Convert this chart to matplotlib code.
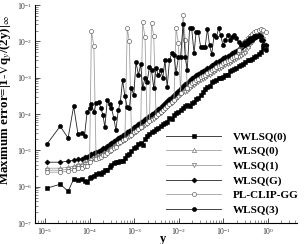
import numpy as np
import matplotlib
matplotlib.use("Agg")
import matplotlib.pyplot as plt

plt.rcParams['font.family'] = ['Liberation Serif', 'DejaVu Serif']
plt.rcParams['mathtext.fontset'] = 'stix'

# grid of y positions (shared by all schemes)
yy = [1.1e-5, 2.2e-5, 3.3e-5, 4.4e-5, 5.5e-5, 6.6e-5, 7.7e-5, 8.8e-5, 1.0e-4, 1.1e-4,
      1.25e-4, 1.4e-4, 1.6e-4, 1.8e-4, 2.0e-4, 2.2e-4, 2.5e-4, 2.8e-4, 3.1e-4, 3.5e-4,
      3.9e-4, 4.4e-4, 4.9e-4, 5.5e-4, 6.2e-4, 7.0e-4, 7.8e-4, 8.7e-4, 9.8e-4, 1.1e-3,
      1.25e-3, 1.4e-3, 1.55e-3, 1.75e-3, 1.95e-3, 2.2e-3, 2.45e-3, 2.75e-3, 3.1e-3, 3.5e-3,
      3.9e-3, 4.4e-3, 4.9e-3, 5.5e-3, 6.2e-3, 7.0e-3, 7.8e-3, 8.7e-3, 9.8e-3, 1.1e-2,
      1.25e-2, 1.4e-2, 1.55e-2, 1.75e-2, 1.95e-2, 2.2e-2, 2.45e-2, 2.75e-2, 3.1e-2, 3.5e-2,
      3.9e-2, 4.4e-2, 4.9e-2, 5.5e-2, 6.2e-2, 7.0e-2, 7.8e-2, 8.7e-2, 9.8e-2, 0.11,
      0.125, 0.14, 0.155, 0.175, 0.195, 0.22, 0.245, 0.275, 0.31, 0.35,
      0.39, 0.44, 0.49, 0.55, 0.62, 0.70, 0.78, 0.90]

vwlsq0 = [9.1e-7, 1.17e-6, 7.5e-7, 1.61e-6, 1.51e-6, 1.61e-6, 1.42e-6, 1.33e-6, 1.71e-6, 1.83e-6,
          1.95e-6, 2.21e-6, 2.36e-6, 2.21e-6, 2.51e-6, 2.85e-6, 2.85e-6, 3.45e-6, 3.91e-6, 4.44e-6,
          4.73e-6, 4.73e-6, 5.04e-6, 5.04e-6, 6.1e-6, 7.38e-6, 7.86e-6, 9.51e-6, 1.15e-5, 1.23e-5,
          1.48e-5, 1.58e-5, 1.39e-5, 2.04e-5, 2.46e-5, 2.8e-5, 3.17e-5, 3.38e-5, 3.84e-5, 4.09e-5,
          4.64e-5, 5.27e-5, 5.62e-5, 5.98e-5, 7.71e-5, 7.2e-5, 9.32e-5, 1.06e-4, 1.13e-4, 1.28e-4,
          1.45e-4, 1.65e-4, 1.76e-4, 1.65e-4, 2.0e-4, 2.13e-4, 2.57e-4, 2.74e-4, 3.32e-4, 4.01e-4,
          4.85e-4, 5.51e-4, 5.9e-4, 7.56e-4, 8.06e-4, 8.58e-4, 9.75e-4, 9.75e-4, 1.04e-3, 1.18e-3,
          1.18e-3, 1.52e-3, 1.62e-3, 1.73e-3, 1.84e-3, 2.09e-3, 2.23e-3, 2.37e-3, 2.69e-3, 3.06e-3,
          3.06e-3, 3.26e-3, 3.7e-3, 3.94e-3, 4.47e-3, 5.07e-3, 6.54e-3, 7.42e-3]

wlsq0 = [3.23e-6, 3.23e-6, 3.45e-6, 3.67e-6, 4.17e-6, 4.17e-6, 4.73e-6, 4.73e-6, 5.72e-6, 6.1e-6,
         6.5e-6, 6.92e-6, 7.38e-6, 7.86e-6, 8.93e-6, 8.93e-6, 1.01e-5, 1.15e-5, 1.23e-5, 1.39e-5,
         1.48e-5, 1.68e-5, 1.79e-5, 2.04e-5, 2.17e-5, 2.46e-5, 2.62e-5, 2.8e-5, 3.38e-5, 3.6e-5,
         4.09e-5, 4.64e-5, 4.95e-5, 5.62e-5, 5.98e-5, 6.79e-5, 7.71e-5, 8.21e-5, 9.32e-5, 1.06e-4,
         1.2e-4, 1.36e-4, 1.55e-4, 1.76e-4, 2.0e-4, 2.27e-4, 2.57e-4, 2.92e-4, 3.32e-4, 4.01e-4,
         4.55e-4, 4.55e-4, 4.85e-4, 5.87e-4, 6.66e-4, 7.1e-4, 8.06e-4, 8.58e-4, 9.75e-4, 1.04e-3,
         1.11e-3, 1.26e-3, 1.34e-3, 1.52e-3, 1.62e-3, 1.84e-3, 1.96e-3, 2.09e-3, 2.37e-3, 2.53e-3,
         2.69e-3, 2.87e-3, 3.26e-3, 3.47e-3, 3.7e-3, 4.19e-3, 4.47e-3, 5.07e-3, 5.41e-3, 7.42e-3,
         9.57e-3, 1.09e-2, 1.31e-2, 1.4e-2, 1.6e-2, 1.6e-2, 1.23e-2, 7.91e-3]

wlsq1 = [2.85e-6, 2.85e-6, 3.04e-6, 3.23e-6, 3.67e-6, 3.67e-6, 4.17e-6, 4.17e-6, 5.04e-6, 5.37e-6,
         5.72e-6, 6.1e-6, 6.5e-6, 6.92e-6, 7.86e-6, 7.86e-6, 8.93e-6, 1.01e-5, 1.08e-5, 1.23e-5,
         1.3e-5, 1.48e-5, 1.58e-5, 1.79e-5, 1.91e-5, 2.17e-5, 2.31e-5, 2.46e-5, 2.98e-5, 3.17e-5,
         3.6e-5, 4.09e-5, 4.36e-5, 4.95e-5, 5.27e-5, 5.98e-5, 6.79e-5, 7.24e-5, 8.21e-5, 9.32e-5,
         1.06e-4, 1.2e-4, 1.36e-4, 1.55e-4, 1.76e-4, 2.0e-4, 2.27e-4, 2.57e-4, 2.92e-4, 3.53e-4,
         4.01e-4, 4.01e-4, 4.27e-4, 5.17e-4, 5.87e-4, 6.25e-4, 7.1e-4, 7.56e-4, 8.58e-4, 9.15e-4,
         9.75e-4, 1.11e-3, 1.18e-3, 1.34e-3, 1.43e-3, 1.62e-3, 1.73e-3, 1.84e-3, 2.09e-3, 2.23e-3,
         2.37e-3, 2.53e-3, 2.87e-3, 3.06e-3, 3.26e-3, 3.7e-3, 3.94e-3, 4.47e-3, 4.76e-3, 6.54e-3,
         8.43e-3, 9.57e-3, 1.16e-2, 1.31e-2, 1.49e-2, 1.49e-2, 1.16e-2, 7.42e-3]

wlsqg = [4.73e-6, 4.73e-6, 5.04e-6, 5.37e-6, 5.72e-6, 5.72e-6, 6.5e-6, 6.5e-6, 7.38e-6, 7.86e-6,
         8.38e-6, 8.93e-6, 9.51e-6, 1.01e-5, 1.15e-5, 1.15e-5, 1.3e-5, 1.48e-5, 1.58e-5, 1.79e-5,
         1.91e-5, 2.17e-5, 2.31e-5, 2.62e-5, 2.8e-5, 3.17e-5, 3.38e-5, 3.6e-5, 4.36e-5, 4.64e-5,
         5.27e-5, 5.98e-5, 6.37e-5, 7.24e-5, 7.71e-5, 8.75e-5, 9.93e-5, 1.06e-4, 1.2e-4, 1.36e-4,
         1.55e-4, 1.76e-4, 2.0e-4, 2.27e-4, 2.57e-4, 2.92e-4, 3.32e-4, 3.76e-4, 4.27e-4, 5.17e-4,
         5.87e-4, 6.66e-4, 7.1e-4, 8.58e-4, 9.75e-4, 1.04e-3, 1.18e-3, 1.26e-3, 1.43e-3, 1.52e-3,
         1.62e-3, 1.84e-3, 1.96e-3, 2.23e-3, 2.37e-3, 2.69e-3, 2.87e-3, 3.06e-3, 3.47e-3, 3.7e-3,
         3.94e-3, 4.19e-3, 4.76e-3, 5.07e-3, 5.41e-3, 6.14e-3, 6.54e-3, 7.42e-3, 7.91e-3, 8.98e-3,
         1.02e-2, 1.09e-2, 1.23e-2, 1.31e-2, 1.49e-2, 1.4e-2, 1.09e-2, 7.91e-3]

plclipgg = [2.51e-6, 2.51e-6, 2.67e-6, 2.85e-6, 3.23e-6, 3.23e-6, 3.67e-6, 3.67e-6, 4.73e-6, 1.9e-2,
            7.4e-3, 5.72e-6, 6.1e-6, 6.5e-6, 7.38e-6, 7.38e-6, 8.38e-6, 9.51e-6, 1.01e-5, 1.15e-5,
            1.23e-5, 1.58e-5, 1.68e-5, 1.91e-5, 2.04e-5, 2.3e-2, 1.0e-2, 2.62e-5, 3.17e-5, 3.38e-5,
            3.84e-5, 4.36e-5, 3.4e-2, 1.3e-2, 5.62e-5, 6.37e-5, 3.2e-2, 1.4e-2, 8.75e-5, 9.93e-5,
            1.13e-4, 1.28e-4, 1.45e-4, 1.65e-4, 1.87e-4, 2.13e-4, 2.42e-4, 2.3e-2, 9.0e-3, 3.76e-4,
            5.3e-2, 1.09e-2, 5.17e-4, 6.25e-4, 7.1e-4, 7.56e-4, 8.58e-4, 9.15e-4, 1.04e-3, 1.11e-3,
            1.18e-3, 1.34e-3, 1.43e-3, 1.62e-3, 1.73e-3, 1.96e-3, 2.09e-3, 2.23e-3, 2.53e-3, 2.69e-3,
            2.87e-3, 3.06e-3, 3.47e-3, 3.7e-3, 3.94e-3, 5.76e-3, 7.42e-3, 8.98e-3, 1.02e-2, 1.23e-2,
            1.4e-2, 1.6e-2, 1.8e-2, 1.92e-2, 2.05e-2, 2.18e-2, 2.05e-2, 1.8e-2]

wlsq3 = [1.48e-5, 4.64e-5, 2.17e-5, 1.65e-4, 2.8e-5, 2.98e-5, 2.46e-5, 1.13e-4, 1.45e-4, 1.87e-4,
         1.13e-4, 2.0e-4, 2.13e-4, 1.45e-4, 9.32e-5, 4.36e-5, 2.42e-4, 1.87e-4, 1.45e-4, 7.71e-5,
         3.6e-5, 1.28e-4, 2.13e-4, 8.58e-4, 3.11e-4, 1.55e-4, 1.45e-4, 5.17e-4, 3.32e-4, 2.69e-3,
         1.18e-3, 2.37e-3, 5.17e-4, 9.75e-4, 7.56e-4, 1.96e-3, 1.62e-3, 5.17e-4, 1.84e-3, 1.18e-3,
         1.62e-3, 9.75e-4, 3.06e-3, 5.51e-4, 3.06e-3, 4.76e-3, 4.19e-3, 1.34e-3, 3.7e-3, 3.7e-3,
         3.0e-2, 3.7e-3, 1.62e-3, 2.3e-2, 2.3e-2, 4.76e-3, 1.8e-2, 1.8e-2, 6.97e-3, 6.97e-3,
         6.97e-3, 2.2e-2, 7.91e-3, 4.47e-3, 1.5e-2, 1.3e-2, 2.3e-2, 1.5e-2, 7.91e-3, 1.09e-2,
         1.5e-2, 1.09e-2, 1.3e-2, 1.5e-2, 1.23e-2, 9.57e-3, 7.91e-3, 8.43e-3, 9.57e-3, 1.09e-2,
         1.23e-2, 1.23e-2, 1.4e-2, 1.4e-2, 1.4e-2, 1.09e-2, 7.91e-3, 5.76e-3]

labels = ['VWLSQ(0)', 'WLSQ(0)', 'WLSQ(1)', 'WLSQ(G)', 'PL-CLIP-GG', 'WLSQ(3)']

fig = plt.figure(figsize=(3.05, 2.44), dpi=100)
ax = fig.add_axes([0.115, 0.086, 0.859, 0.893])

dark = '#222222'
light = '#a0a0a0'
ms = 3.0
ax.loglog(yy, vwlsq0, '-s', color=dark, lw=0.6, ms=ms, mfc='k', mec='k', mew=0.4, label=labels[0])
ax.loglog(yy, wlsq0, '-^', color=light, lw=0.6, ms=ms, mfc='w', mec='#555555', mew=0.4, label=labels[1])
ax.loglog(yy, wlsq1, '-v', color=light, lw=0.6, ms=ms, mfc='w', mec='#555555', mew=0.4, label=labels[2])
ax.loglog(yy, wlsqg, '-D', color=dark, lw=0.6, ms=2.6, mfc='k', mec='k', mew=0.4, label=labels[3])
ax.loglog(yy, plclipgg, '-o', color=light, lw=0.6, ms=ms, mfc='w', mec='#444444', mew=0.4, label=labels[4])
ax.loglog(yy, wlsq3, '-o', color=dark, lw=0.6, ms=ms, mfc='k', mec='k', mew=0.4, label=labels[5])

ax.set_xlim(6e-6, 4.5)
ax.set_ylim(1e-7, 1e-1)

ax.spines['top'].set_visible(False)
ax.spines['right'].set_visible(False)
ax.tick_params(which='both', direction='in', labelsize=5.5, pad=2, colors='#333333')
ax.tick_params(which='major', length=3.5, width=0.6)
ax.tick_params(which='minor', length=2, width=0.4)
ax.xaxis.set_major_locator(matplotlib.ticker.LogLocator(base=10, numticks=10))
ax.yaxis.set_major_locator(matplotlib.ticker.LogLocator(base=10, numticks=10))

ax.set_xlabel('y', fontsize=9, fontweight='bold')
ax.xaxis.set_label_coords(0.49, -0.045)
ax.set_ylabel(r'Maximum error=|1-$\nabla$q$_y$/(2y)|$_\infty$', fontsize=9.3, fontweight='bold')
ax.yaxis.set_label_coords(-0.079, 0.565)

leg = ax.legend(loc='upper left', bbox_to_anchor=(0.544, 0.46), bbox_transform=fig.transFigure,
                frameon=False, numpoints=1, handlelength=5.0, handletextpad=1.0,
                labelspacing=0.42, borderpad=0, borderaxespad=0,
                prop={'family': 'Liberation Serif', 'weight': 'bold', 'size': 8.0})

fig.savefig('out.png', dpi=100)
